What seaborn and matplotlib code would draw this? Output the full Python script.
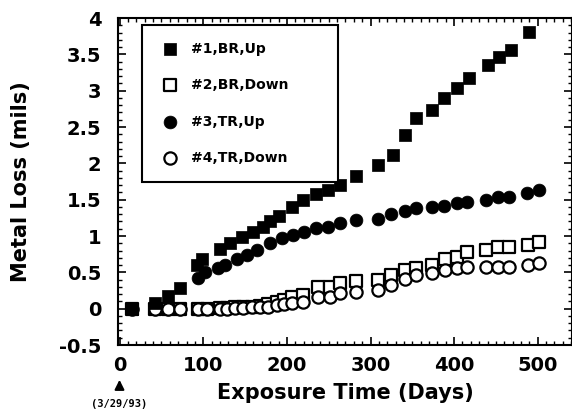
import matplotlib
matplotlib.use('Agg')
import matplotlib.pyplot as plt
from matplotlib.ticker import MultipleLocator, FuncFormatter
import seaborn as sns

# exposure days and metal loss (mils)
days_1 = [15, 42, 58, 72, 92, 99, 120, 132, 146, 159, 171, 180, 191, 206, 219, 235,
          249, 263, 283, 309, 327, 341, 355, 373, 388, 404, 418, 440, 454, 468, 490]
loss_1 = [0.0, 0.08, 0.17, 0.29, 0.6, 0.68, 0.82, 0.9, 0.98, 1.06, 1.13, 1.2, 1.27, 1.4, 1.49, 1.58,
          1.64, 1.7, 1.83, 1.98, 2.11, 2.39, 2.62, 2.73, 2.9, 3.03, 3.17, 3.35, 3.46, 3.56, 3.81]

days_2 = [15, 42, 58, 72, 94, 104, 120, 128, 138, 148, 158, 168, 178, 188, 197, 206, 219,
          237, 251, 263, 283, 309, 325, 341, 355, 373, 389, 404, 416, 438, 452, 466, 488, 501]
loss_2 = [0.0, 0.0, 0.0, 0.0, 0.0, 0.0, 0.01, 0.01, 0.02, 0.02, 0.03, 0.04, 0.06, 0.09, 0.12, 0.16, 0.19,
          0.3, 0.3, 0.35, 0.38, 0.4, 0.46, 0.53, 0.56, 0.6, 0.69, 0.71, 0.78, 0.81, 0.85, 0.85, 0.88, 0.92]

days_3 = [15, 42, 58, 72, 94, 102, 118, 126, 140, 152, 164, 180, 194, 207, 221, 235,
          249, 263, 283, 309, 325, 341, 355, 373, 388, 403, 415, 438, 452, 466, 487, 501]
loss_3 = [0.0, 0.0, 0.0, 0.0, 0.42, 0.5, 0.56, 0.6, 0.69, 0.74, 0.81, 0.9, 0.97, 1.01, 1.05, 1.11,
          1.13, 1.18, 1.22, 1.24, 1.3, 1.35, 1.38, 1.4, 1.41, 1.45, 1.47, 1.5, 1.54, 1.54, 1.59, 1.63]

days_4 = days_2
loss_4 = [0.0, -0.01, -0.01, 0.0, 0.0, 0.0, 0.0, 0.0, 0.01, 0.01, 0.02, 0.02, 0.03, 0.05, 0.07, 0.08, 0.09,
          0.16, 0.16, 0.21, 0.23, 0.26, 0.33, 0.41, 0.46, 0.49, 0.53, 0.56, 0.57, 0.57, 0.58, 0.58, 0.6, 0.63]

labels = ['#1,BR,Up', '#2,BR,Down', '#3,TR,Up', '#4,TR,Down']

sns.set_style('ticks', {'axes.edgecolor': 'black', 'xtick.color': 'black', 'ytick.color': 'black',
                        'text.color': 'black', 'axes.labelcolor': 'black'})
plt.rcParams['font.family'] = ['DejaVu Sans']
plt.rcParams['font.weight'] = 'bold'

fig = plt.figure(figsize=(5.72, 4.13), dpi=100)
ax = fig.add_axes([0.2063, 0.1646, 0.7937, 0.7918])

sns.scatterplot(x=days_3, y=loss_3, marker='o', s=85, color='black', edgecolor='black',
                linewidth=0.5, label=labels[2], zorder=2, ax=ax)
sns.scatterplot(x=days_2, y=loss_2, marker='s', s=72, color='white', edgecolor='black',
                linewidth=1.6, label=labels[1], zorder=3, ax=ax)
sns.scatterplot(x=days_4, y=loss_4, marker='o', s=78, color='white', edgecolor='black',
                linewidth=1.6, label=labels[3], zorder=4, ax=ax)
sns.scatterplot(x=days_1, y=loss_1, marker='s', s=80, color='black', edgecolor='black',
                linewidth=0.5, label=labels[0], zorder=5, ax=ax)

ax.set_xlim(-2, 541)
ax.set_ylim(-0.5, 4)
ax.xaxis.set_major_locator(MultipleLocator(100))
ax.xaxis.set_minor_locator(MultipleLocator(10))
ax.yaxis.set_major_locator(MultipleLocator(0.5))
ax.yaxis.set_minor_locator(MultipleLocator(0.1))
ax.yaxis.set_major_formatter(FuncFormatter(lambda v, p: '%g' % v))
ax.tick_params(which='both', direction='in', top=True, right=True, labelsize=14)
ax.tick_params(which='major', length=6, width=1.2)
ax.tick_params(which='minor', length=3, width=1)
ax.tick_params(axis='x', pad=8)
ax.tick_params(axis='y', pad=12)
for sp in ax.spines.values():
    sp.set_linewidth(1.5)

ax.set_xlabel('Exposure Time (Days)', fontsize=15, fontweight='bold', labelpad=6)
ax.set_ylabel('Metal Loss (mils)', fontsize=15, fontweight='bold', labelpad=20)

handles, labs = ax.get_legend_handles_labels()
order = [labs.index(l) for l in labels]
leg = ax.legend([handles[i] for i in order], labels, loc='upper left',
                bbox_to_anchor=(0.053, 0.5, 0.432, 0.479), mode='expand', borderaxespad=0,
                frameon=True, fancybox=False, edgecolor='black', framealpha=1,
                prop={'size': 10, 'weight': 'bold'}, labelspacing=1.62, handletextpad=0.7,
                borderpad=1.2, handlelength=1.6, scatterpoints=1)
leg.get_frame().set_linewidth(1.5)

# start-date note under the zero tick
ax.annotate('', xy=(119.5, 36), xytext=(119.5, 21), xycoords='figure pixels',
            arrowprops=dict(arrowstyle='-|>', color='black', lw=1.5, mutation_scale=14))
fig.text(119.5 / 572, 1 - 404 / 413, '(3/29/93)', ha='center', va='center',
         family='DejaVu Sans Mono', fontsize=7.5, fontweight='bold')

fig.savefig('out.png', dpi=100)
